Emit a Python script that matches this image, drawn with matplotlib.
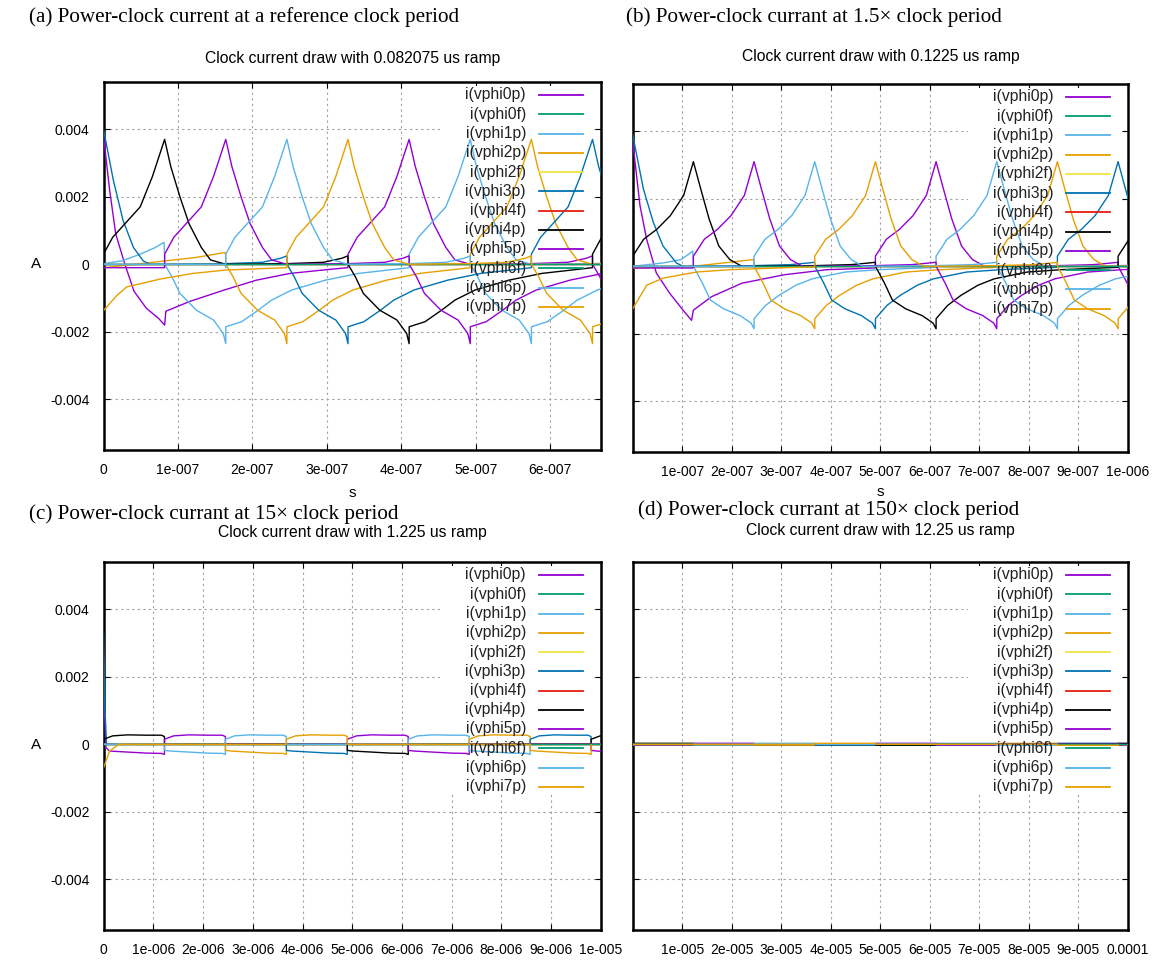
import matplotlib
matplotlib.use('Agg')
import matplotlib.pyplot as plt
from matplotlib.patches import Rectangle

plt.rcParams['font.family'] = ['Liberation Sans', 'DejaVu Sans']

names = ['i(vphi0p)', 'i(vphi0f)', 'i(vphi1p)', 'i(vphi2p)', 'i(vphi2f)', 'i(vphi3p)',
         'i(vphi4f)', 'i(vphi4p)', 'i(vphi5p)', 'i(vphi6f)', 'i(vphi6p)', 'i(vphi7p)']
colors = ['#9400d3', '#009e73', '#56b4e9', '#e69f00', '#f0e442', '#0072b2',
          '#e51e10', '#000000', '#9400d3', '#009e73', '#56b4e9', '#e69f00']
# ramp number where each power-clock phase peaks ('f' nets stay flat)
peak_at = [5, None, 6, 7, None, 8, None, 1, 2, None, 3, 4]

ramp = [8.2075e-8, 1.225e-7, 1.225e-6, 1.225e-5]

# one clock cycle per panel: time in ramps relative to the peak, current in A
cyc_a_t = [-1.0, -0.85, -0.65, -0.4, -0.2, 0.0, 0.1, 0.25, 0.4, 0.6, 0.75, 1.0,
           2.0, 2.6, 2.9, 3.0, 3.001, 3.12, 3.25, 3.52, 3.8, 3.96, 4.0,
           4.001, 4.26, 4.53, 4.75, 5.08, 5.63, 6.17, 6.999]
cyc_a_i = [0.0003, 0.0008, 0.0012, 0.0017, 0.0026, 0.0037, 0.0029, 0.0020, 0.0012, 0.0005, 0.00013, 0.0,
           0.00002, 0.00006, 0.00018, 0.00025, 0.0, -0.00037, -0.00086, -0.00136, -0.00165, -0.00205, -0.00235,
           -0.00185, -0.0017, -0.00136, -0.00106, -0.00076, -0.00047, -0.00027, -0.0001]

cyc_b_t = [-1.0, -0.82, -0.6, -0.38, -0.16, 0.0, 0.12, 0.26, 0.42, 0.6, 0.8, 1.0,
           2.0, 2.6, 2.9, 3.0, 3.001, 3.15, 3.28, 3.5, 3.77, 3.95, 4.0,
           4.001, 4.19, 4.41, 4.69, 4.96, 5.5, 6.06, 6.999]
cyc_b_i = [0.0003, 0.0008, 0.0011, 0.0015, 0.0021, 0.0031, 0.0023, 0.0014, 0.0006, 0.0002, 0.0, 0.0,
           0.00002, 0.00005, 0.0001, 0.00012, 0.0, -0.0005, -0.001, -0.00126, -0.00146, -0.00168, -0.00185,
           -0.00155, -0.00116, -0.00086, -0.00056, -0.00037, -0.00017, -0.0001, -0.00003]

cyc_c_t = [-1.0, -0.999, -0.85, -0.6, -0.3, -0.05, 0.0, 0.001, 1.0,
           3.0, 3.001, 3.1, 3.4, 3.7, 3.95, 4.0, 4.001, 6.999]
cyc_c_i = [0.0, 0.00015, 0.00025, 0.00028, 0.00027, 0.00027, 0.00023, 0.0, 0.0,
           0.0, -0.00018, -0.0002, -0.00023, -0.00026, -0.00027, -0.0003, 0.0, 0.0]

cyc_d_t = [-1.0, -0.999, 0.0, 0.001, 3.0, 3.001, 4.0, 4.001, 6.999]
cyc_d_i = [0.0, 0.00003, 0.00003, 0.0, 0.0, -0.00003, -0.00003, 0.0, 0.0]

# start-up transients (time in ramps from t=0) before the cycle settles
head_a = {
    0: ([0.0, 0.1, 0.2, 0.35, 0.5, 0.7, 0.9, 1.0, 1.02, 1.41, 1.96, 2.5, 3.05, 3.59, 3.99],
        [0.0038, 0.0022, 0.0009, 0.0, -0.0008, -0.0013, -0.0016, -0.0018,
         -0.00139, -0.0011, -0.00077, -0.00047, -0.00027, -0.00017, -0.0001]),
    2: ([0.0, 0.3, 0.6, 0.85, 0.99], [0.00002, 0.0001, 0.0003, 0.0005, 0.00065]),
    3: ([0.0, 0.5, 1.0, 1.5, 1.99], [-0.0001, 0.0, 0.0001, 0.0002, 0.00035]),
    5: ([0.0, 0.16, 0.32, 0.49, 0.65, 0.76], [0.004, 0.0025, 0.0013, 0.0005, 0.0001, 0.0]),
    8: ([0.0, 0.99], [-0.0001, -0.0001]),
    10: ([0.0, 1.99], [0.0, 0.0]),
    11: ([0.0, 0.22, 0.38, 0.92, 1.46, 2.0, 2.99],
         [-0.00137, -0.00092, -0.00067, -0.00044, -0.00027, -0.00017, -0.0001]),
}
head_b = {
    0: ([0.0, 0.12, 0.23, 0.39, 0.61, 0.83, 0.97, 1.0, 1.3, 1.8, 2.5, 3.2, 3.99],
        [0.0037, 0.0018, 0.0008, -0.0002, -0.0008, -0.0013, -0.0016,
         -0.0013, -0.0009, -0.0005, -0.00025, -0.0001, -0.00005]),
    2: ([0.0, 0.5, 0.8, 0.99], [0.0, 0.0001, 0.0002, 0.00045]),
    3: ([0.0, 1.0, 1.99], [-0.00005, 0.0, 0.0002]),
    5: ([0.0, 0.175, 0.34, 0.5, 0.72, 0.83], [0.0039, 0.0023, 0.0013, 0.0006, 0.0001, 0.0]),
    8: ([0.0, 0.99], [-0.00005, -0.00005]),
    10: ([0.0, 1.99], [0.0, 0.0]),
    11: ([0.0, 0.23, 0.5, 1.05, 1.6, 2.7, 2.99],
         [-0.00126, -0.00056, -0.00035, -0.00017, -0.0001, -0.00003, -0.00002]),
}
head_c = {
    0: ([0.0, 0.02, 0.04], [0.0026, 0.0008, -0.0001]),
    5: ([0.0, 0.02, 0.05], [0.0033, 0.0012, 0.0]),
    11: ([0.0, 0.1, 0.25], [-0.0007, -0.0002, 0.0]),
}
head_d = {}

xtick_a = [0, 1e-7, 2e-7, 3e-7, 4e-7, 5e-7, 6e-7]
xlab_a = ['0', '1e-007', '2e-007', '3e-007', '4e-007', '5e-007', '6e-007']
xtick_b = [i * 1e-7 for i in range(11)]
xlab_b = ['', '1e-007', '2e-007', '3e-007', '4e-007', '5e-007', '6e-007', '7e-007',
          '8e-007', '9e-007', '1e-006']
xtick_c = [i * 1e-6 for i in range(11)]
xlab_c = ['0', '1e-006', '2e-006', '3e-006', '4e-006', '5e-006', '6e-006', '7e-006',
          '8e-006', '9e-006', '1e-005']
xtick_d = [i * 1e-5 for i in range(11)]
xlab_d = ['', '1e-005', '2e-005', '3e-005', '4e-005', '5e-005', '6e-005', '7e-005',
          '8e-005', '9e-005', '0.0001']
ytick = [-0.004, -0.002, 0, 0.002, 0.004]
ylab = ['-0.004', '-0.002', '0', '0.002', '0.004']

subtitles = ['Clock current draw with 0.082075 us ramp', 'Clock current draw with 0.1225 us ramp',
             'Clock current draw with 1.225 us ramp', 'Clock current draw with 12.25 us ramp']
captions = ['(a) Power-clock current at a reference clock period',
            '(b) Power-clock currant at 1.5\u00d7 clock period',
            '(c) Power-clock currant at 15\u00d7 clock period',
            '(d) Power-clock currant at 150\u00d7 clock period']


def series(k, cyc_t, cyc_i, heads, n_ramps):
    if peak_at[k] is None:
        return [0, n_ramps], [0.0, 0.0]
    ts, vs = [], []
    for c in range(-3, 2):
        p = peak_at[k] + 8 * c
        for a, b in zip(cyc_t, cyc_i):
            ts.append(p + a)
            vs.append(b)
    if k in heads:
        h_t, h_i = heads[k]
        lo = h_t[-1]
        out_t, out_i = list(h_t), list(h_i)
    else:
        lo = -1.5
        out_t, out_i = [], []
    for a, b in zip(ts, vs):
        if lo < a < n_ramps + 1.5:
            out_t.append(a)
            out_i.append(b)
    return out_t, out_i


W, H = 1158, 960
fig = plt.figure(figsize=(W / 100, H / 100), dpi=100)

# axes boxes in pixels: left, top, right, bottom
boxes = [(103.5, 82, 601, 450), (632.7, 84, 1128, 452),
         (103.5, 562, 601, 930), (632.7, 562, 1128, 930)]
xlims = [6.68e-7, 1e-6, 1e-5, 1e-4]
cycles = [(cyc_a_t, cyc_a_i, head_a), (cyc_b_t, cyc_b_i, head_b),
          (cyc_c_t, cyc_c_i, head_c), (cyc_d_t, cyc_d_i, head_d)]
xticks = [(xtick_a, xlab_a), (xtick_b, xlab_b), (xtick_c, xlab_c), (xtick_d, xlab_d)]

for n in range(4):
    l, t, r, b = boxes[n]
    ax = fig.add_axes([l / W, 1 - b / H, (r - l) / W, (b - t) / H])
    T = ramp[n]
    cyc_t, cyc_i, heads = cycles[n]
    for k in range(len(names)):
        st, si = series(k, cyc_t, cyc_i, heads, xlims[n] / T)
        ax.plot([v * T for v in st], si, color=colors[k], lw=1.0, zorder=3)

    ax.set_xlim(0, xlims[n])
    ax.set_ylim(-0.0055, 0.0054)
    ax.set_xticks(xticks[n][0])
    ax.set_xticklabels(xticks[n][1], fontsize=10)
    ax.set_yticks(ytick)
    if n in (0, 2):
        ax.set_yticklabels(ylab, fontsize=10)
    else:
        ax.set_yticklabels([])
    ax.tick_params(direction='in', length=4, width=0.8, top=True, right=True)
    ax.tick_params(axis='x', pad=9)
    ax.tick_params(axis='y', pad=10)
    ax.grid(True, color='#a0a0a0', linestyle=(0, (2, 3)), linewidth=0.8)
    ax.set_axisbelow(True)
    for s in ax.spines.values():
        s.set_linewidth(1.8)

    # key area hides the grid, curves still run over it
    ax.add_patch(Rectangle((0.676, 0.37), 0.31, 0.62, transform=ax.transAxes,
                           facecolor='white', edgecolor='none', zorder=1))
    for k in range(len(names)):
        yk = 1 - (13 + 19.25 * k) / 368
        ax.text(0.849, yk, names[k], transform=ax.transAxes, ha='right', va='center',
                fontsize=11.3, color='#222222', zorder=4)
        ax.plot([0.875, 0.964], [yk, yk], transform=ax.transAxes, color=colors[k],
                lw=1.3, zorder=4)

    fig.text(((l + r) / 2) / W, 1 - ([58, 56, 533, 530][n]) / H, subtitles[n],
             ha='center', va='center', fontsize=11.3)

fig.text(29 / W, 1 - 17 / H, captions[0], family='Liberation Serif', fontsize=15.2, va='center')
fig.text(626 / W, 1 - 17 / H, captions[1], family='Liberation Serif', fontsize=15.2, va='center')
fig.text(29 / W, 1 - 514 / H, captions[2], family='Liberation Serif', fontsize=15.2, va='center')
fig.text(638 / W, 1 - 510 / H, captions[3], family='Liberation Serif', fontsize=15.2, va='center')

fig.text(36 / W, 1 - 264 / H, 'A', ha='center', va='center', fontsize=11)
fig.text(36 / W, 1 - 745 / H, 'A', ha='center', va='center', fontsize=11)
fig.text(352 / W, 1 - 493 / H, 's', ha='center', va='center', fontsize=11)
fig.text(880 / W, 1 - 492 / H, 's', ha='center', va='center', fontsize=11)

fig.savefig('out.png', dpi=100)
